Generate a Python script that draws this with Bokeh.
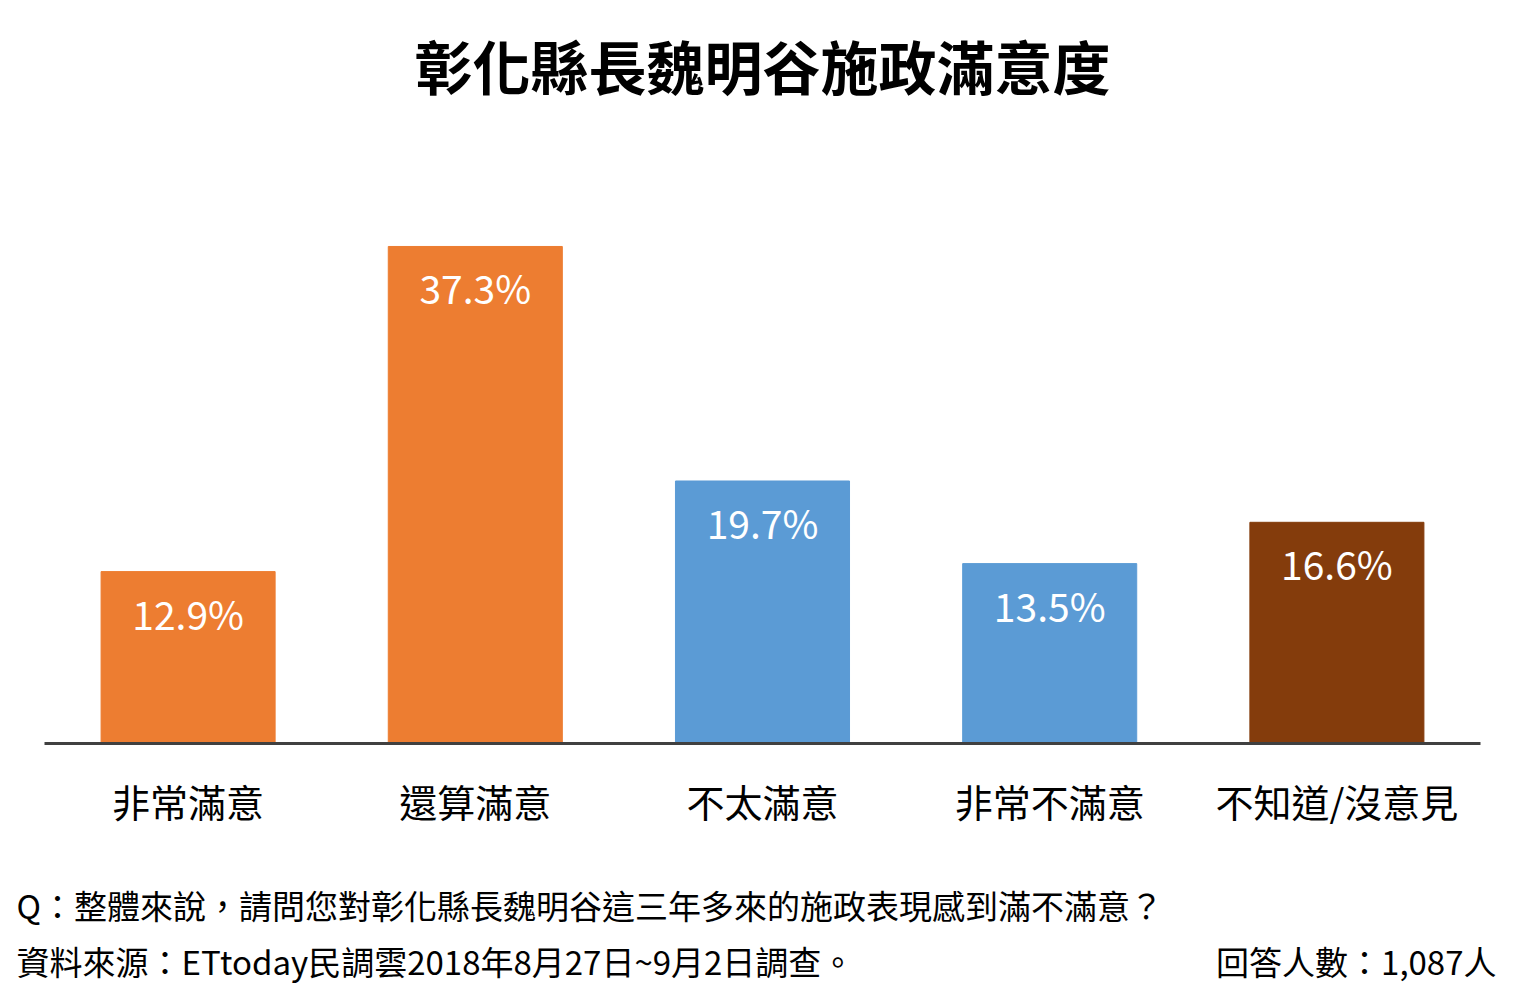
from bokeh.plotting import figure
from bokeh.models import ColumnDataSource, Label, Range1d
from bokeh.core.properties import value
from bokeh.embed import file_html
from bokeh.resources import INLINE

categories = ["非常滿意", "還算滿意", "不太滿意", "非常不滿意", "不知道/沒意見"]
values = [12.9, 37.3, 19.7, 13.5, 16.6]
colors = ["#ED7D31", "#ED7D31", "#5B9BD5", "#5B9BD5", "#843C0C"]
title_text = "彰化縣長魏明谷施政滿意度"
note_q = "Q：整體來說，請問您對彰化縣長魏明谷這三年多來的施政表現感到滿不滿意？"
note_src = "資料來源：ETtoday民調雲2018年8月27日~9月2日調查。"
note_n = "回答人數：1,087人"

FONT = "Noto Sans CJK TC"
W, H = 1524, 995
# layout in pixels: baseline, axis extent, scale
BASE_PY, LEFT_PX, RIGHT_PX = 743, 44, 1480
X_SCALE = (RIGHT_PX - LEFT_PX) / 5.0   # px per category
Y_SCALE = 13.325                         # px per percent

def px_to_x(px):
    return (px - LEFT_PX) / X_SCALE - 0.5

def py_to_y(py):
    return (BASE_PY - py) / Y_SCALE

xs = list(range(len(categories)))
src = ColumnDataSource(dict(x=xs, top=values, color=colors, cat=categories,
                            zero=[0] * len(xs),
                            label=[f"{v:.1f}%" for v in values]))

p = figure(width=W, height=H, output_backend="svg", toolbar_location=None,
           x_range=Range1d(px_to_x(0), px_to_x(W)),
           y_range=Range1d(py_to_y(H), py_to_y(0)),
           min_border=0)
p.outline_line_color = None
p.grid.grid_line_color = None
p.axis.visible = False
p.background_fill_color = "white"
p.border_fill_color = "white"

p.vbar(x="x", top="top", bottom=0, width=0.606, color="color", source=src)
p.text(x="x", y="top", text="label", source=src, text_color="white",
       text_align="center", text_baseline="middle", y_offset=41,
       text_font=value(FONT), text_font_size="39px")
# baseline axis
p.segment(x0=[-0.5], y0=[0], x1=[4.5], y1=[0], line_color="#404040", line_width=3)
# category labels
p.text(x="x", y="zero", text="cat", source=src, text_color="#000000",
       text_align="center", text_baseline="middle", y_offset=57,
       text_font=value(FONT), text_font_size="38px")

def add_label(px, py, text, align, size, bold=False):
    p.add_layout(Label(x=px_to_x(px), y=py_to_y(py),
                       text=text, text_align=align, text_baseline="middle",
                       text_font=FONT, text_font_size=size,
                       text_font_style="bold" if bold else "normal",
                       text_color="#000000"))

add_label(762, 64, title_text, "center", "58px", True)
add_label(16, 904, note_q, "left", "33px")
add_label(16, 960, note_src, "left", "33px")
add_label(1496, 960, note_n, "right", "33px")

open("out.html", "w").write(file_html(p, INLINE))
